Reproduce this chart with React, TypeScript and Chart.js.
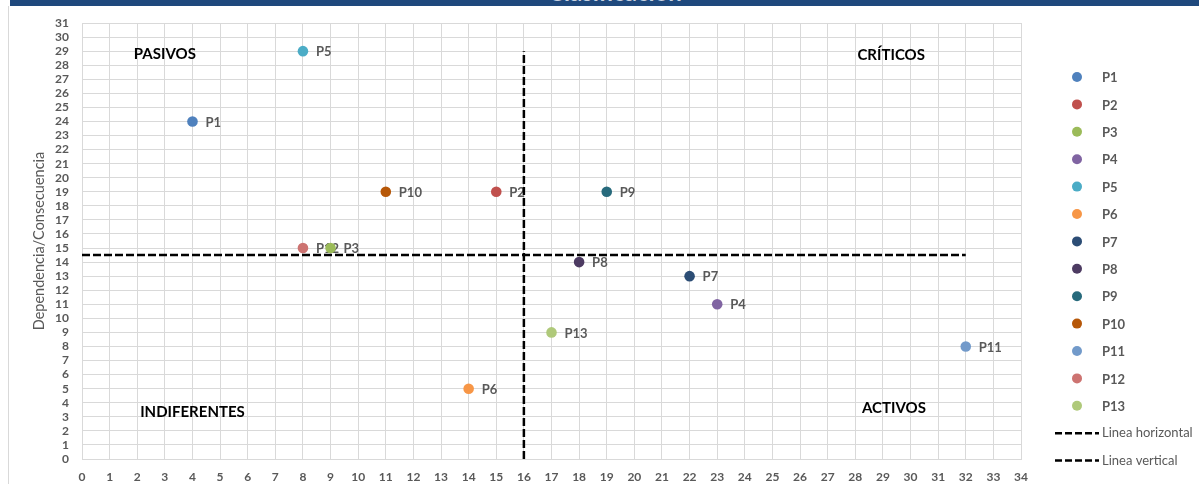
import React, { useEffect, useRef } from "react";
import { Chart, registerables } from "chart.js";

Chart.register(...registerables);

const chartTitle = "Clasificación";
const yAxisTitle = "Dependencia/Consecuencia";
const seriesNames = ["P1", "P2", "P3", "P4", "P5", "P6", "P7", "P8", "P9", "P10", "P11", "P12", "P13"];
const xValues = [4, 15, 9, 23, 8, 14, 22, 18, 19, 11, 32, 8, 17];
const yValues = [24, 19, 15, 11, 29, 5, 13, 14, 19, 19, 8, 15, 9];
const seriesColors = [
  "#4F81BD", "#C0504D", "#9BBB59", "#8064A2", "#4BACC6", "#F79646", "#2C4D75",
  "#4D3B62", "#276A7C", "#B65708", "#729ACA", "#CD7371", "#AFC97A",
];
const lineNames = ["Linea horizontal", "Linea vertical"];
const hLineX = [0, 32];
const hLineY = [14.5, 14.5];
const vLineX = [16, 16];
const vLineY = [0, 29];
const quadrantNames = ["PASIVOS", "CRÍTICOS", "INDIFERENTES", "ACTIVOS"];
const quadrantX = [3, 29.3, 4, 29.4];
const quadrantY = [28.8, 28.7, 3.3, 3.6];
const xMin = 0;
const xMax = 34;
const yMin = 0;
const yMax = 31;

const FONT = "Lato, 'Open Sans', sans-serif";

const pointLabelPlugin = {
  id: "pointLabels",
  beforeDatasetsDraw(chart: any) {
    const ctx = chart.ctx;
    ctx.save();
    ctx.font = `bold 13px ${FONT}`;
    ctx.fillStyle = "#595959";
    ctx.textAlign = "left";
    ctx.textBaseline = "middle";
    seriesNames.forEach((name, i) => {
      const meta = chart.getDatasetMeta(i);
      const el = meta.data[0];
      if (el) ctx.fillText(name, el.x + 13, el.y + 1);
    });
    ctx.restore();
  },
};

const quadrantPlugin = {
  id: "quadrants",
  afterDatasetsDraw(chart: any) {
    const ctx = chart.ctx;
    const xs = chart.scales.x;
    const ys = chart.scales.y;
    ctx.save();
    ctx.font = `bold 15px ${FONT}`;
    ctx.fillStyle = "#000000";
    ctx.textAlign = "center";
    ctx.textBaseline = "middle";
    quadrantNames.forEach((name, i) => {
      ctx.fillText(name, xs.getPixelForValue(quadrantX[i]), ys.getPixelForValue(quadrantY[i]));
    });
    ctx.restore();
  },
};

const legendPlugin = {
  id: "customLegend",
  afterDraw(chart: any) {
    const ctx = chart.ctx;
    const markerX = 1077;
    const textX = 1102;
    const startY = 77;
    const step = 27.4;
    ctx.save();
    ctx.textAlign = "left";
    ctx.textBaseline = "middle";
    chart.data.datasets.forEach((ds: any, i: number) => {
      const y = startY + i * step;
      if (ds.showLine) {
        ctx.strokeStyle = "#000000";
        ctx.lineWidth = 2.5;
        ctx.setLineDash([7, 3]);
        ctx.beginPath();
        ctx.moveTo(1055, y);
        ctx.lineTo(1099, y);
        ctx.stroke();
        ctx.setLineDash([]);
        ctx.font = `13px ${FONT}`;
        ctx.fillStyle = "#595959";
        ctx.fillText(ds.label, textX, y);
      } else {
        ctx.fillStyle = ds.backgroundColor;
        ctx.beginPath();
        ctx.arc(markerX, y, 5, 0, Math.PI * 2);
        ctx.fill();
        ctx.font = `bold 13px ${FONT}`;
        ctx.fillStyle = "#595959";
        ctx.fillText(ds.label, textX, y + 1);
      }
    });
    ctx.restore();
  },
};

export default function App() {
  const canvasRef = useRef<HTMLCanvasElement>(null);

  useEffect(() => {
    document.body.style.margin = "0";
    const pointSets = seriesNames.map((name, i) => ({
      label: name,
      data: [{ x: xValues[i], y: yValues[i] }],
      backgroundColor: seriesColors[i],
      borderColor: seriesColors[i],
      pointRadius: 5.3,
      pointHoverRadius: 5.3,
      borderWidth: 0,
      showLine: false,
    }));
    const lineSets = [
      { label: lineNames[0], data: hLineX.map((x, i) => ({ x, y: hLineY[i] })) },
      { label: lineNames[1], data: vLineX.map((x, i) => ({ x, y: vLineY[i] })) },
    ].map((d) => ({
      ...d,
      showLine: true,
      borderColor: "#000000",
      backgroundColor: "#000000",
      borderWidth: 2.5,
      borderDash: [8, 3],
      pointRadius: 0,
      pointHoverRadius: 0,
      order: -1,
    }));

    const chart = new Chart(canvasRef.current as HTMLCanvasElement, {
      type: "scatter",
      data: { datasets: [...pointSets, ...lineSets] as any },
      options: {
        animation: false,
        responsive: false,
        maintainAspectRatio: false,
        layout: { padding: { top: 23, right: 178, left: 0, bottom: 0 } },
        plugins: {
          legend: { display: false },
          tooltip: { enabled: false },
          title: { display: false },
        },
        scales: {
          x: {
            type: "linear",
            min: xMin,
            max: xMax,
            afterFit(scale: any) {
              scale.height = 25;
            },
            ticks: {
              stepSize: 1,
              autoSkip: false,
              maxRotation: 0,
              padding: 11,
              color: "#595959",
              font: { family: FONT, size: 12, weight: "bold" },
            },
            grid: { color: "#D9D9D9", lineWidth: 1, drawTicks: false },
            border: { color: "#D9D9D9", width: 1 },
          },
          y: {
            type: "linear",
            min: yMin,
            max: yMax,
            afterFit(scale: any) {
              scale.width = 82;
            },
            ticks: {
              stepSize: 1,
              autoSkip: false,
              padding: 13,
              color: "#595959",
              font: { family: FONT, size: 12, weight: "bold" },
            },
            title: {
              display: true,
              text: yAxisTitle,
              color: "#595959",
              font: { family: FONT, size: 14.5 },
              padding: { top: 31, bottom: 0 },
            },
            grid: { color: "#D9D9D9", lineWidth: 1, drawTicks: false },
            border: { color: "#D9D9D9", width: 1 },
          },
        },
      },
      plugins: [pointLabelPlugin, quadrantPlugin, legendPlugin],
    });
    return () => chart.destroy();
  }, []);

  return (
    <div style={{ position: "relative", width: 1199, height: 484, background: "#ffffff", overflow: "hidden" }}>
      <canvas ref={canvasRef} width={1199} height={484} style={{ position: "absolute", left: 0, top: 0, width: 1199, height: 484 }} />
      <div
        style={{
          position: "absolute",
          left: 10,
          top: 0,
          width: 1189,
          height: 6,
          background: "#1F497D",
          overflow: "hidden",
        }}
      >
        <div
          style={{
            position: "absolute",
            left: 0,
            width: 1210,
            top: -21,
            textAlign: "center",
            font: `bold 24px ${FONT}`,
            color: "#C9D3E2",
            lineHeight: "26px",
          }}
        >
          {chartTitle}
        </div>
      </div>
      <div style={{ position: "absolute", left: 8, top: 6, width: 1, height: 478, background: "#D9D9D9" }} />
    </div>
  );
}
